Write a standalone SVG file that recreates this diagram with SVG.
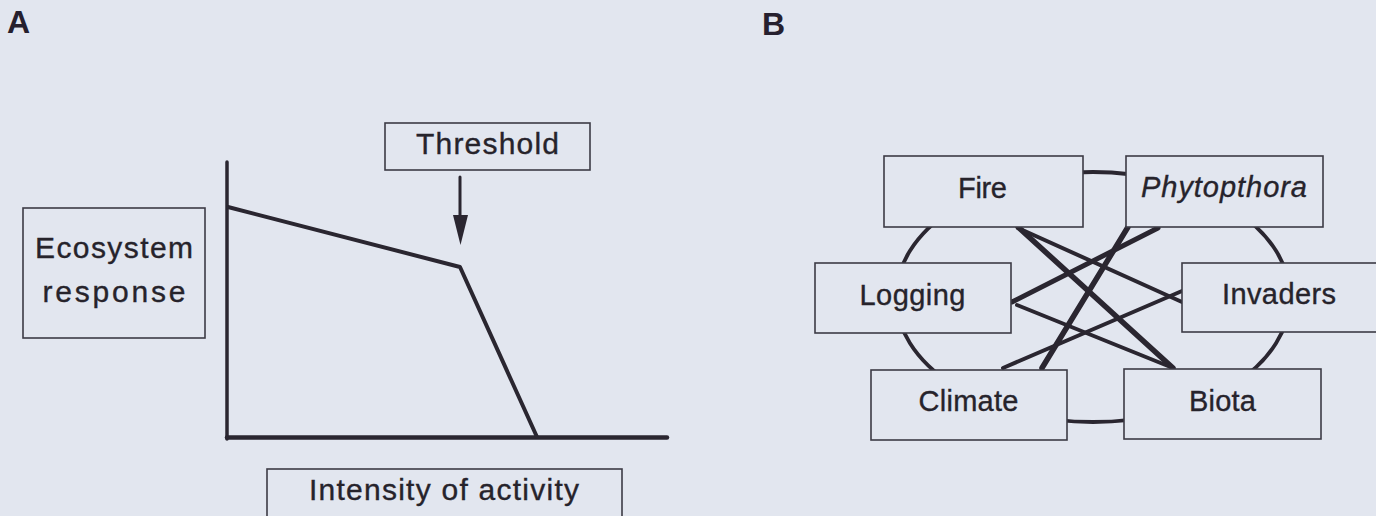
<svg xmlns="http://www.w3.org/2000/svg" width="1376" height="516" viewBox="0 0 1376 516">
<defs>
<style>
.bg{fill:#e2e6ef}
.box{fill:#e2e6ef;stroke:#3c3b45;stroke-width:1.6}
.t{font-family:"Liberation Sans",Arial,sans-serif;fill:#26232b;stroke:#26232b;stroke-width:0.35;text-anchor:middle}
.ta{font-size:30px}
.tb{font-size:29px}
.lbl{font-family:"Liberation Sans",Arial,sans-serif;font-weight:bold;font-size:32px;fill:#26202e}
.ln{fill:none;stroke:#2a2630;stroke-linecap:round;stroke-linejoin:round}
</style>
</defs>
<rect class="bg" x="0" y="0" width="1376" height="516"/>
<text class="lbl" x="7" y="33">A</text>
<text class="lbl" x="762" y="35">B</text>

<g id="panelA-connectors">
<line class="ln" x1="227" y1="162" x2="227" y2="439" stroke-width="3.5"/>
<line class="ln" x1="227" y1="437.5" x2="667" y2="437.5" stroke-width="4.5"/>
<polyline class="ln" points="228,207 460,267 537,437" stroke-width="4"/>
<line class="ln" x1="460" y1="177" x2="460" y2="222" stroke-width="3"/>
<polygon points="453,215 468,215 460.5,245" fill="#2a2630"/>
</g>

<g id="node-threshold">
<rect class="box" x="385" y="123" width="205" height="47"/>
<text class="t ta" x="487.5" y="154" textLength="143" lengthAdjust="spacing">Threshold</text>
</g>
<g id="node-ecosystem">
<rect class="box" x="23" y="208" width="182" height="130"/>
<text class="t ta" x="114" y="258" textLength="158" lengthAdjust="spacing">Ecosystem</text>
<text class="t ta" x="114" y="302" textLength="143" lengthAdjust="spacing">response</text>
</g>
<g id="node-intensity">
<rect class="box" x="267" y="469" width="355" height="50"/>
<text class="t ta" x="444" y="500" textLength="270" lengthAdjust="spacing">Intensity of activity</text>
</g>

<g id="panelB-connectors">
<ellipse class="ln" cx="1093" cy="297" rx="197" ry="125" stroke-width="3.8"/>
<line class="ln" x1="1018" y1="227" x2="1173" y2="368" stroke-width="5.5"/>
<line class="ln" x1="1018" y1="228" x2="1182" y2="302" stroke-width="4"/>
<line class="ln" x1="1128" y1="227" x2="1042" y2="368" stroke-width="5.5"/>
<line class="ln" x1="1158" y1="228" x2="1012" y2="302" stroke-width="5"/>
<line class="ln" x1="1017" y1="305" x2="1173" y2="368" stroke-width="4"/>
<line class="ln" x1="1182" y1="291" x2="1003" y2="368" stroke-width="4"/>
</g>

<g id="node-fire">
<rect class="box" x="884" y="156" width="199" height="71"/>
<text class="t tb" x="982.5" y="198" textLength="49" lengthAdjust="spacing">Fire</text>
</g>
<g id="node-phytopthora">
<rect class="box" x="1126" y="156" width="197" height="71"/>
<text class="t tb" x="1224" y="197" font-style="italic" textLength="166" lengthAdjust="spacing">Phytopthora</text>
</g>
<g id="node-logging">
<rect class="box" x="815" y="263" width="196" height="70"/>
<text class="t tb" x="912.5" y="305" textLength="106" lengthAdjust="spacing">Logging</text>
</g>
<g id="node-invaders">
<rect class="box" x="1182" y="263" width="200" height="69"/>
<text class="t tb" x="1279" y="304" textLength="114" lengthAdjust="spacing">Invaders</text>
</g>
<g id="node-climate">
<rect class="box" x="871" y="370" width="196" height="70"/>
<text class="t tb" x="968.5" y="411" textLength="100" lengthAdjust="spacing">Climate</text>
</g>
<g id="node-biota">
<rect class="box" x="1124" y="369" width="197" height="70"/>
<text class="t tb" x="1222.5" y="411" textLength="67" lengthAdjust="spacing">Biota</text>
</g>
</svg>
